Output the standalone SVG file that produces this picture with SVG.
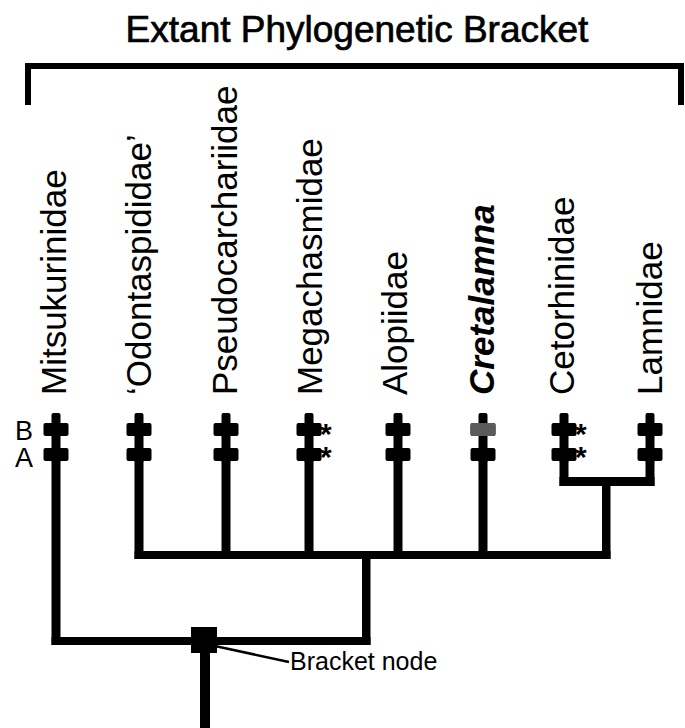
<svg xmlns="http://www.w3.org/2000/svg" width="685" height="728" viewBox="0 0 685 728">
<style>
.lbl{font-family:"Liberation Sans",Arial,sans-serif;font-size:35px;fill:#000}
.t{font-family:"Liberation Sans",Arial,sans-serif;fill:#000}
.ast{font-family:"Liberation Sans",Arial,sans-serif;font-size:30px;font-weight:bold;fill:#000}
.ln{fill:#000}
.blk{fill:#000}
.gry{fill:#5a5a5a}
</style>
<defs>
<g id="tick">
<rect x="-4.5" y="413" width="9" height="50" rx="2" class="blk"/>
<rect x="-12.5" y="423" width="25" height="13" rx="2" class="blk"/>
<rect x="-12.5" y="448" width="25" height="13" rx="2" class="blk"/>
</g>
</defs>
<g id="title">
<text class="t" x="357" y="42" font-size="37" text-anchor="middle" stroke="#000" stroke-width="0.7">Extant Phylogenetic Bracket</text>
<path d="M28,105 V66 H681 V105" fill="none" stroke="#000" stroke-width="6"/>
</g>
<g id="labels-AB">
<text class="t" font-size="27"><tspan x="15" y="440">B</tspan><tspan x="15" y="467">A</tspan></text>
</g>
<g id="connectors">
<rect class="ln" x="51.5" y="450" width="9" height="195"/>
<rect class="ln" x="134.5" y="450" width="9" height="109"/>
<rect class="ln" x="221.5" y="450" width="9" height="109"/>
<rect class="ln" x="304.5" y="450" width="9" height="109"/>
<rect class="ln" x="393.5" y="450" width="9" height="109"/>
<rect class="ln" x="478.5" y="450" width="9" height="109"/>
<rect class="ln" x="559.5" y="450" width="9" height="36"/>
<rect class="ln" x="645.5" y="450" width="9" height="36"/>
<rect class="ln" x="559.5" y="477" width="95" height="9"/>
<rect class="ln" x="602" y="477" width="8.5" height="82"/>
<rect class="ln" x="134.5" y="551" width="476" height="8"/>
<rect class="ln" x="362" y="551" width="8.5" height="94"/>
<rect class="ln" x="51.5" y="637" width="319" height="8"/>
<rect class="ln" x="200" y="640" width="10" height="88"/>
<line x1="215" y1="646" x2="289" y2="662" stroke="#000" stroke-width="2.5"/>
</g>
<g id="bracket-node">
<rect x="191" y="627" width="26" height="26" class="blk"/>
<text class="t" x="290" y="670" font-size="25">Bracket node</text>
</g>
<g id="n-mitsukurinidae">
<use href="#tick" x="56"/>
<text class="lbl" transform="translate(66,395) rotate(-90)">Mitsukurinidae</text>
</g>
<g id="n-odontaspididae">
<use href="#tick" x="139"/>
<text class="lbl" transform="translate(151,395) rotate(-90)">‘Odontaspididae’</text>
</g>
<g id="n-pseudocarchariidae">
<use href="#tick" x="226"/>
<text class="lbl" transform="translate(237,395) rotate(-90)">Pseudocarchariidae</text>
</g>
<g id="n-megachasmidae">
<use href="#tick" x="309"/>
<text class="lbl" transform="translate(322,395) rotate(-90)">Megachasmidae</text>
<text class="ast"><tspan x="320" y="444">*</tspan><tspan x="320" y="467">*</tspan></text>
</g>
<g id="n-alopiidae">
<use href="#tick" x="398"/>
<text class="lbl" transform="translate(407,395) rotate(-90)">Alopiidae</text>
</g>
<g id="n-cretalamna">
<use href="#tick" x="483"/>
<rect x="470.5" y="423" width="25" height="13" rx="2" class="gry"/>
<text class="lbl" font-weight="bold" font-style="italic" transform="translate(494,395) rotate(-90)">Cretalamna</text>
</g>
<g id="n-cetorhinidae">
<use href="#tick" x="564"/>
<text class="lbl" transform="translate(574,395) rotate(-90)">Cetorhinidae</text>
<text class="ast"><tspan x="575" y="444">*</tspan><tspan x="575" y="467">*</tspan></text>
</g>
<g id="n-lamnidae">
<use href="#tick" x="650"/>
<text class="lbl" transform="translate(662,395) rotate(-90)">Lamnidae</text>
</g>
</svg>
